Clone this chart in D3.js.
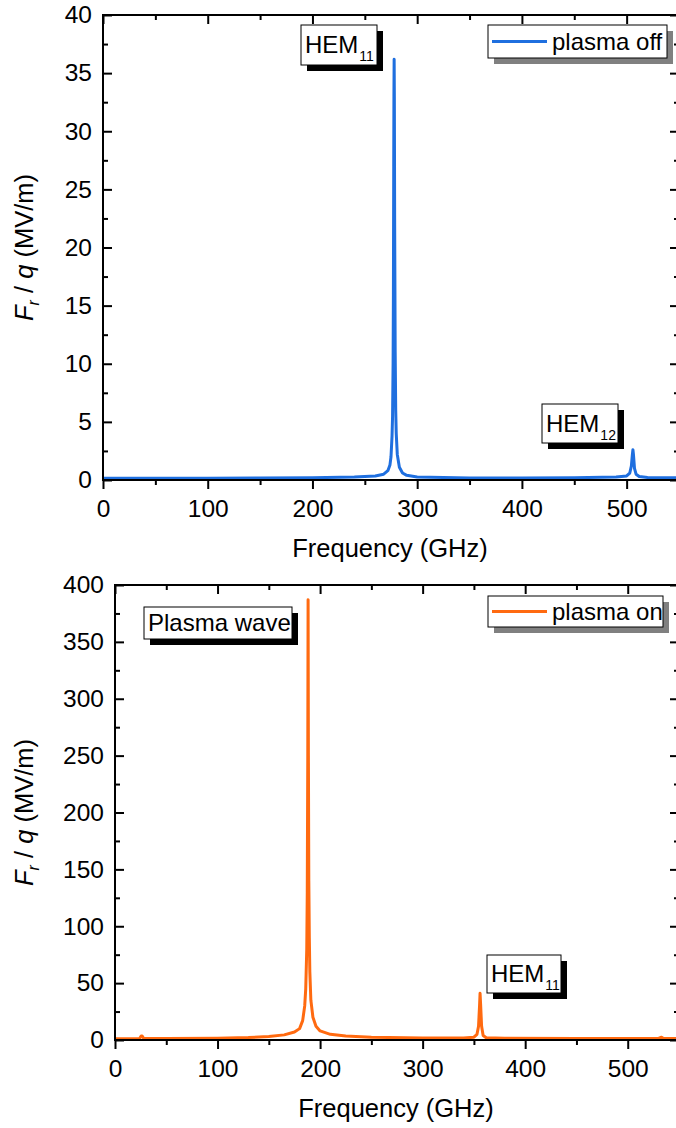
<!DOCTYPE html>
<html><head><meta charset="utf-8">
<script src="https://cdn.jsdelivr.net/npm/d3@7"></script>
<style>body{margin:0;background:#fff}svg{display:block}text{font-family:"Liberation Sans",Arial,sans-serif;fill:#000}</style>
</head><body>
<svg id="c" width="676" height="1128"></svg>
<script>
// ---- data ----
const offFreq = [0,50,100,150,200,240,260,268,272,274,275,276,276.5,277,277.3,277.6,277.8,278,278.2,278.5,279,279.5,280,281,283,286,290,300,350,400,450,490,500,503,504.5,505.5,506,506.5,507.5,509,512,520,550];
const offVal  = [0.15,0.15,0.15,0.17,0.2,0.25,0.35,0.5,0.8,1.3,2,3.8,5.5,10,16,27,33,36.2,33,22,11,6,4,2.2,1.1,0.6,0.4,0.25,0.18,0.18,0.2,0.25,0.35,0.6,1.2,2.2,2.6,2.2,1.0,0.5,0.3,0.22,0.2];
const onFreq = [0,20,24,25.5,26.5,28,50,100,130,150,165,175,180,183,185,186,187,187.5,188,188.3,188.6,189,189.5,190,191,193,196,200,210,225,250,300,340,350,353,354.5,355.5,356,356.5,357.5,359,362,380,450,530,533,535,550];
const onVal  = [1.2,1.2,1.3,3.5,3.5,1.3,1.3,1.6,2.2,3,4.5,7,10,17,30,45,80,130,250,387,250,140,90,60,35,20,12,8,5,3.5,2.5,1.8,1.8,2.5,5,12,30,41,32,12,4,2,1.5,1.4,1.4,2.5,1.4,1.4];
const xTicks = [0,100,200,300,400,500];
const yTicksTop = [0,5,10,15,20,25,30,35,40];
const yTicksBot = [0,50,100,150,200,250,300,350,400];
const legendOff = "plasma off", legendOn = "plasma on";
// ----
const svg = d3.select("#c");
const FS = 24.5, FT = 25.5, FL = 24;

function panel(cfg){
  const g = svg.append("g");
  const x = d3.scaleLinear().domain([0,550]).range([cfg.left, 679]);
  const y = d3.scaleLinear().domain(cfg.yDom).range([cfg.bottom, cfg.top]);
  const clipId = "clip"+cfg.id;
  svg.append("clipPath").attr("id",clipId).append("rect")
    .attr("x",cfg.left).attr("y",cfg.top).attr("width",679-cfg.left).attr("height",cfg.bottom-cfg.top);
  const data = cfg.fx.map((f,i)=>[f,cfg.fy[i]]);
  g.append("path").datum(data).attr("clip-path",`url(#${clipId})`)
    .attr("fill","none").attr("stroke",cfg.color).attr("stroke-width",3).attr("stroke-linejoin","round")
    .attr("d", d3.line().x(d=>x(d[0])).y(d=>y(d[1])));
  const minorX = d3.range(50,550,100);
  const yStep = cfg.yTicks[1]-cfg.yTicks[0];
  const minorY = cfg.yTicks.slice(0,-1).map(v=>v+yStep/2);
  function styleAxis(a){ a.select(".domain").remove(); a.selectAll("line").attr("stroke","#000").attr("stroke-width",2); a.selectAll("text").attr("font-size",FS).attr("font-family",'"Liberation Sans",Arial,sans-serif'); }
  let a = g.append("g").attr("transform",`translate(0,${cfg.bottom})`)
    .call(d3.axisBottom(x).tickValues(cfg.xTicks).tickSize(9).tickPadding(11).tickFormat(d3.format("d")));
  styleAxis(a);
  a = g.append("g").attr("transform",`translate(0,${cfg.bottom})`).call(d3.axisBottom(x).tickValues(minorX).tickSize(5).tickFormat(""));
  styleAxis(a);
  a = g.append("g").attr("transform",`translate(0,${cfg.top})`).call(d3.axisTop(x).tickValues(cfg.xTicks).tickSize(-9).tickFormat(""));
  styleAxis(a);
  a = g.append("g").attr("transform",`translate(0,${cfg.top})`).call(d3.axisTop(x).tickValues(minorX).tickSize(-5).tickFormat(""));
  styleAxis(a);
  a = g.append("g").attr("transform",`translate(${cfg.left},0)`).call(d3.axisLeft(y).tickValues(cfg.yTicks).tickSize(-9).tickPadding(12).tickFormat(d3.format("d")));
  styleAxis(a);
  a.selectAll("text").attr("x",-11).attr("text-anchor","end");
  a = g.append("g").attr("transform",`translate(${cfg.left},0)`).call(d3.axisLeft(y).tickValues(minorY).tickSize(-5).tickFormat(""));
  styleAxis(a);
  a = g.append("g").attr("transform",`translate(679,0)`).call(d3.axisRight(y).tickValues(cfg.yTicks).tickSize(-9).tickFormat(""));
  styleAxis(a);
  a = g.append("g").attr("transform",`translate(679,0)`).call(d3.axisRight(y).tickValues(minorY).tickSize(-5).tickFormat(""));
  styleAxis(a);
  g.append("rect").attr("x",cfg.left).attr("y",cfg.top).attr("width",679-cfg.left).attr("height",cfg.bottom-cfg.top)
    .attr("fill","none").attr("stroke","#000").attr("stroke-width",2);
  g.append("text").attr("x",(cfg.left+679)/2 - 1).attr("y",cfg.bottom+77).attr("text-anchor","middle").attr("font-size",FT).text("Frequency (GHz)");
  const yl = g.append("text").attr("transform",`translate(33,${(cfg.top+cfg.bottom)/2}) rotate(-90)`).attr("text-anchor","middle").attr("font-size",FT);
  yl.append("tspan").attr("font-style","italic").text("F");
  yl.append("tspan").attr("font-style","italic").attr("font-size",16).attr("dy",6).text("r");
  yl.append("tspan").attr("dy",-6).text(" / ");
  yl.append("tspan").attr("font-style","italic").text("q");
  yl.append("tspan").text(" (MV/m)");
  const L = cfg.legend;
  g.append("rect").attr("x",L.x+6).attr("y",L.y+6).attr("width",L.w).attr("height",L.h).attr("fill","#808080");
  g.append("rect").attr("x",L.x).attr("y",L.y).attr("width",L.w).attr("height",L.h).attr("fill","#fff").attr("stroke","#000").attr("stroke-width",1);
  g.append("line").attr("x1",L.x+4).attr("x2",L.x+59).attr("y1",L.y+L.h/2).attr("y2",L.y+L.h/2).attr("stroke",cfg.color).attr("stroke-width",3);
  g.append("text").attr("x",L.x+64).attr("y",L.y+L.h/2+8).attr("font-size",FL).text(L.text);
  cfg.notes.forEach(n=>{
    g.append("rect").attr("x",n.x+6).attr("y",n.y+6).attr("width",n.w).attr("height",n.h).attr("fill","#000");
    g.append("rect").attr("x",n.x).attr("y",n.y).attr("width",n.w).attr("height",n.h).attr("fill","#fff").attr("stroke","#000").attr("stroke-width",1);
    const t = g.append("text").attr("x",n.x+4).attr("y",n.y+n.h/2+8).attr("font-size",FL);
    t.append("tspan").text(n.main);
    if(n.sub) t.append("tspan").attr("font-size",14).attr("dx",1).attr("dy",8).text(n.sub);
  });
}

panel({id:"a", left:103, top:15, bottom:480, yDom:[0,40], yTicks:yTicksTop, xTicks:xTicks,
  fx:offFreq, fy:offVal, color:"#1f6fdf",
  legend:{x:488,y:25,w:179,h:33,text:legendOff},
  notes:[{x:301,y:25,w:76,h:40,main:"HEM",sub:"11"},{x:542,y:404,w:76,h:39,main:"HEM",sub:"12"}]});
panel({id:"b", left:115, top:585, bottom:1040, yDom:[0,400], yTicks:yTicksBot, xTicks:xTicks,
  fx:onFreq, fy:onVal, color:"#ff6a10",
  legend:{x:488,y:596,w:175,h:31,text:legendOn},
  notes:[{x:144,y:607,w:148,h:32,main:"Plasma wave"},{x:487,y:955,w:74,h:38,main:"HEM",sub:"11"}]});
</script>
</body></html>
